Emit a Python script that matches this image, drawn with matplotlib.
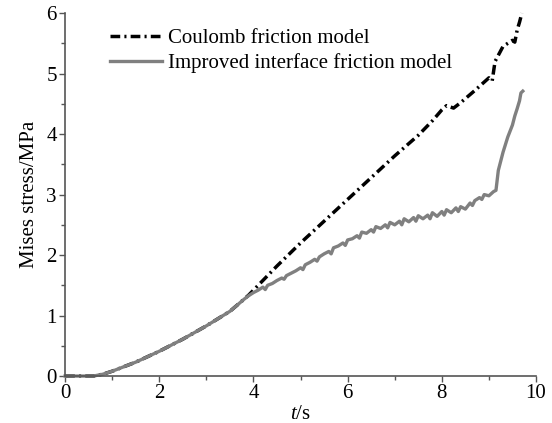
import matplotlib.pyplot as plt
from matplotlib.ticker import MultipleLocator

plt.rcParams['font.family'] = ['Liberation Serif', 'DejaVu Serif']
plt.rcParams['mathtext.fontset'] = 'custom'
plt.rcParams['mathtext.rm'] = 'Liberation Serif'
plt.rcParams['mathtext.it'] = 'Liberation Serif:italic'

# shared part of both curves
t_common = [0, 0.6, 0.8, 1.0, 1.5, 2.0, 2.5, 3.0, 3.5, 3.8]
s_common = [0, 0, 0.03, 0.08, 0.23, 0.41, 0.61, 0.83, 1.07, 1.27]

# Coulomb friction model (after the split)
t_coulomb = [3.9, 4.0, 4.2, 4.5, 5.0, 5.5, 6.0, 6.5, 7.0, 7.5, 7.8, 8.0, 8.1, 8.25,
             8.4, 8.7, 9.0, 9.07, 9.13, 9.3, 9.5, 9.55, 9.6, 9.65, 9.7]
s_coulomb = [1.34, 1.42, 1.58, 1.82, 2.2, 2.56, 2.92, 3.28, 3.64, 3.98, 4.22, 4.4,
             4.47, 4.43, 4.52, 4.72, 4.93, 4.88, 5.2, 5.45, 5.55, 5.52, 5.72, 5.85, 6.0]

# improved interface friction model (after the split)
t_improved = [3.9, 4.0, 4.1, 4.2, 4.25, 4.3, 4.4, 4.5, 4.6, 4.65, 4.7, 4.8, 4.9,
              5.0, 5.05, 5.1, 5.2, 5.3, 5.35, 5.4, 5.5, 5.6, 5.65, 5.7, 5.8, 5.9,
              5.95, 6.0, 6.1, 6.2, 6.25, 6.3, 6.4, 6.5, 6.55, 6.6, 6.7, 6.8, 6.85,
              6.9, 7.0, 7.1, 7.15, 7.2, 7.3, 7.4, 7.45, 7.5, 7.6, 7.7, 7.75, 7.8,
              7.9, 8.0, 8.05, 8.1, 8.2, 8.3, 8.35, 8.4, 8.5, 8.6, 8.65, 8.7, 8.8,
              8.85, 8.9, 9.0, 9.1, 9.15, 9.2, 9.3, 9.4, 9.5, 9.55, 9.6, 9.65,
              9.68, 9.72]
s_improved = [1.33, 1.38, 1.42, 1.47, 1.43, 1.5, 1.53, 1.58, 1.62, 1.6, 1.66, 1.7, 1.74,
              1.79, 1.76, 1.84, 1.88, 1.93, 1.9, 1.97, 2.02, 2.06, 2.02, 2.12, 2.15, 2.2,
              2.16, 2.25, 2.27, 2.32, 2.28, 2.38, 2.36, 2.42, 2.38, 2.47, 2.44, 2.5, 2.45,
              2.54, 2.5, 2.56, 2.5, 2.6, 2.55, 2.62, 2.56, 2.65, 2.6, 2.66, 2.6, 2.7,
              2.64, 2.72, 2.66, 2.75, 2.7, 2.78, 2.72, 2.8, 2.76, 2.86, 2.82, 2.9, 2.95,
              2.92, 3.0, 2.98, 3.05, 3.07, 3.4, 3.7, 3.95, 4.15, 4.3, 4.42, 4.55,
              4.68, 4.71]

fig = plt.figure(figsize=(5.52, 4.23), dpi=100)
ax = fig.add_axes([0.118, 0.111, 0.853, 0.858])

ax.plot(t_common + t_improved, s_common + s_improved, color='#808080', lw=2.4,
        label='Improved interface friction model', clip_on=False, zorder=2)
ax.plot(t_common + t_coulomb, s_common + s_coulomb, color='black', lw=2.5,
        dashes=(2.8, 1.2, 0.6, 1.2), label='Coulomb friction model',
        clip_on=False, zorder=1)

ax.set_xlim(0, 10)
ax.set_ylim(0, 6)
ax.xaxis.set_major_locator(MultipleLocator(2))
ax.xaxis.set_minor_locator(MultipleLocator(1))
ax.yaxis.set_major_locator(MultipleLocator(1))
ax.yaxis.set_minor_locator(MultipleLocator(0.5))

for side in ['top', 'right']:
    ax.spines[side].set_visible(False)
for side in ['left', 'bottom']:
    ax.spines[side].set_color('#555555')
    ax.spines[side].set_linewidth(1.2)
ax.tick_params(which='major', direction='out', length=4, width=1, color='#555555',
               labelsize=15, pad=2)
ax.tick_params(which='minor', direction='out', length=3, width=1, color='#555555')

ax.set_xlabel('$t$/s', fontsize=15, labelpad=1)
ax.set_ylabel('Mises stress/MPa', fontsize=15, labelpad=5)

handles, labels = ax.get_legend_handles_labels()
ax.legend(handles[::-1], labels[::-1], loc='upper left', bbox_to_anchor=(0.055, 1.01),
          frameon=False, fontsize=15, handlelength=2.5, handletextpad=0.3,
          labelspacing=0.25)

fig.savefig('out.png', dpi=100)
